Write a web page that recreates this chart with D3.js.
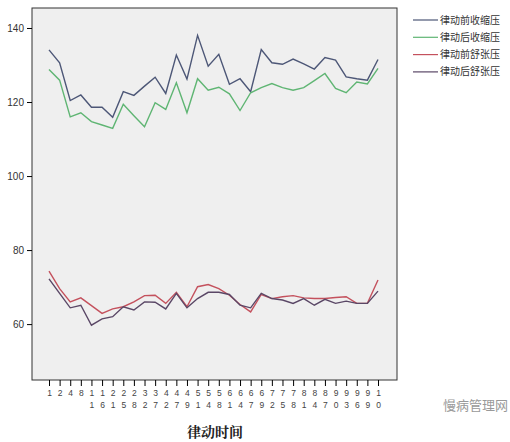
<!DOCTYPE html><html><head><meta charset="utf-8"><script src="https://d3js.org/d3.v7.min.js"></script>
<style>body{margin:0;background:#fff}</style></head><body><svg id="c" width="510" height="442"></svg><script>
const categories=["1","2","4","8","11","16","21","25","28","32","37","42","47","49","51","54","58","61","64","67","69","72","75","78","81","84","87","90","93","96","99","10"];
const preSys=[134.1,130.6,120.4,121.9,118.6,118.6,115.9,122.8,121.8,124.3,126.7,122.3,132.7,126.2,138.0,129.7,132.9,124.8,126.3,122.8,134.2,130.6,130.2,131.6,130.3,128.9,132.0,131.3,126.8,126.3,125.9,131.5];
const postSys=[128.8,125.9,116.0,117.1,114.7,113.8,112.9,119.4,116.3,113.3,119.8,118.0,125.2,117.1,126.3,123.2,124.0,122.2,117.7,122.5,123.9,125.0,123.9,123.2,123.9,125.8,127.7,123.7,122.5,125.4,124.9,129.1];
const preDia=[74.3,69.6,66.0,67.1,65.0,62.9,64.1,64.7,66.0,67.7,67.8,65.6,68.6,64.7,70.1,70.7,69.6,67.8,65.3,63.3,68.0,66.9,67.4,67.7,67.1,66.9,66.9,67.2,67.4,65.6,65.6,71.9];
const postDia=[72.2,68.3,64.4,65.1,59.7,61.4,62.0,64.7,63.8,66.0,65.9,64.1,68.3,64.4,66.9,68.6,68.6,68.0,65.1,64.4,68.3,66.9,66.5,65.6,66.9,65.1,66.7,65.6,66.2,65.6,65.6,68.9];
const seriesNames=["律动前收缩压","律动后收缩压","律动前舒张压","律动后舒张压"];
const yTicks=[60,80,100,120,140];
const colors=["#4d5777","#5fb573","#c4515d","#5a4766"];
const svg=d3.select("#c");
const L=32,R=397,T=8,B=380;
svg.append("rect").attr("x",L).attr("y",T).attr("width",R-L).attr("height",B-T).attr("fill","#efefef").attr("stroke","#333").attr("stroke-width",1);
const x=d3.scalePoint().domain(d3.range(categories.length)).range([49,378]);
const y=d3.scaleLinear().domain([44.9,145.4]).range([B,T]);
const ya=svg.append("g").attr("transform",`translate(${L},0)`).call(d3.axisLeft(y).tickValues(yTicks).tickSize(5).tickSizeOuter(0));
ya.select(".domain").remove();
ya.selectAll("text").attr("font-family","Arial, Liberation Sans").attr("font-size",10).attr("fill","#333");
const xa=svg.append("g").attr("transform",`translate(0,${B})`).call(d3.axisBottom(x).tickSize(6).tickSizeOuter(0).tickFormat(""));
xa.select(".domain").remove();
xa.selectAll(".tick").each(function(d){
  const s=categories[d];
  s.split("").forEach((ch,j)=>d3.select(this).append("text").attr("y",16+j*12).attr("text-anchor","middle").attr("font-size",8.5).attr("font-family","Arial, Liberation Sans").attr("fill","#444").text(ch));
});
const line=d3.line().x((d,i)=>x(i)).y(d=>y(d));
[preSys,postSys,preDia,postDia].forEach((s,k)=>svg.append("path").attr("d",line(s)).attr("fill","none").attr("stroke",colors[k]).attr("stroke-width",1.4));
seriesNames.forEach((n,k)=>{
  const yy=20+k*17.3;
  svg.append("line").attr("x1",413).attr("x2",438).attr("y1",yy).attr("y2",yy).attr("stroke",colors[k]).attr("stroke-width",1.2);
  svg.append("text").attr("x",440).attr("y",yy+3.5).attr("font-size",10).attr("font-family","Noto Sans CJK SC").attr("fill","#333").text(n);
});
svg.append("text").attr("x",215).attr("y",437).attr("text-anchor","middle").attr("font-size",14).attr("font-weight","bold").attr("font-family","Noto Serif CJK SC, Noto Sans CJK SC").attr("fill","#222").text("律动时间");
svg.append("text").attr("x",508).attr("y",410).attr("text-anchor","end").attr("font-size",13).attr("font-family","Noto Sans CJK SC").attr("fill","#999").text("慢病管理网");
</script></body></html>
